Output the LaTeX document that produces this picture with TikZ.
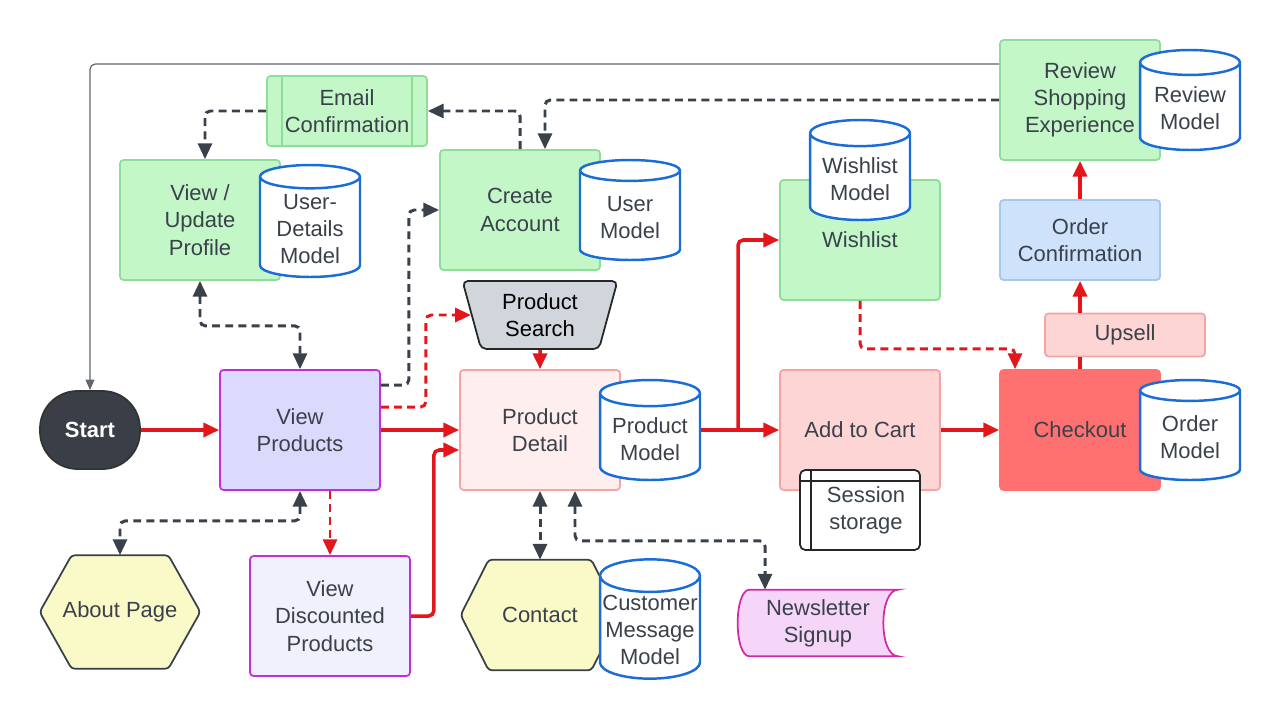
\documentclass[tikz,border=0pt]{standalone}
\usepackage{fontspec}
\setsansfont{Liberation Sans}
\usetikzlibrary{arrows.meta}
\usetikzlibrary{shapes}
\usetikzlibrary{backgrounds}

\definecolor{inkgray}{HTML}{3A414A}
\definecolor{flowred}{HTML}{E3161B}
\definecolor{greenfill}{HTML}{C3F7C8}
\definecolor{greenline}{HTML}{8FDD9A}
\definecolor{modelblue}{HTML}{1A6DD8}
\definecolor{lavfill}{HTML}{DCDAFC}
\definecolor{palelav}{HTML}{F1F0FD}
\definecolor{purpleline}{HTML}{C12EE0}
\definecolor{pinkfill}{HTML}{FEEEEE}
\definecolor{pinkline}{HTML}{F5A3A3}
\definecolor{rosefill}{HTML}{FDD5D5}
\definecolor{hotred}{HTML}{FF7070}
\definecolor{bluefill}{HTML}{CEE2FC}
\definecolor{blueline}{HTML}{A7C7EF}
\definecolor{searchfill}{HTML}{D1D5DC}
\definecolor{hexfill}{HTML}{FAF9C8}
\definecolor{newsfill}{HTML}{F5D6F8}
\definecolor{newsline}{HTML}{D12AA6}
\definecolor{startfill}{HTML}{3A3F47}

\begin{document}
\begin{tikzpicture}[x = 0.02cm, y = -0.02cm, font=\sffamily\fontsize{12.5}{15.5}\selectfont, >={Triangle[length = 9pt, width = 8pt]}]
	\tikzstyle{boxStyle} = [shape = rectangle, rounded corners = 2pt, minimum width = 3.2cm, minimum height = 2.4cm, align = center, text = inkgray, line width = 1pt]
	\tikzstyle{greenStyle} = [boxStyle, draw = greenline, fill = greenfill]
	\tikzstyle{modelStyle} = [shape = cylinder, shape border rotate = 90, aspect = 0.33, anchor = shape center, draw = modelblue, fill = white, line width = 1.4pt, minimum width = 2cm, minimum height = 2cm, align = center, text = inkgray, inner sep = 1pt]
	\tikzstyle{hexStyle} = [draw = inkgray, fill = hexfill, line width = 1pt, rounded corners = 2pt]
	\tikzstyle{flowStyle} = [draw = flowred, line width = 2pt, ->, rounded corners = 3pt]
	\tikzstyle{optStyle} = [draw = flowred, line width = 1.7pt, dash pattern = on 4.5pt off 3pt, ->, rounded corners = 3pt]
	\tikzstyle{linkStyle} = [draw = inkgray, line width = 1.7pt, dash pattern = on 4.5pt off 3pt, ->, rounded corners = 3pt]
	\tikzstyle{backStyle} = [draw = inkgray!80, line width = 0.7pt, -{Triangle[length = 6pt, width = 5pt]}, rounded corners = 3pt]
	\useasboundingbox (0,0) rectangle (1280,720);
	\node[shape = rectangle, rounded corners = 0.75cm, minimum width = 2cm, minimum height = 1.56cm, draw = black!80, fill = startfill, line width = 1pt, text = white, font = \sffamily\bfseries\fontsize{12.5}{15.5}\selectfont] (start) at (90,430) {Start};
	\node[boxStyle, draw = purpleline, fill = lavfill] (viewprod) at (300,430) {View\\Products};
	\node[boxStyle, draw = purpleline, fill = palelav] (discount) at (330,616) {View\\Discounted\\Products};
	\node[boxStyle, draw = pinkline, fill = pinkfill] (detail) at (540,430) {Product\\Detail};
	\node[boxStyle, draw = pinkline, fill = rosefill] (cart) at (860,430) {Add to Cart};
	\node[boxStyle, draw = hotred, fill = hotred] (checkout) at (1080,430) {Checkout};
	\node[boxStyle, draw = pinkline, fill = rosefill, minimum height = 0.86cm] (upsell) at (1125,335) {Upsell};
	\node[boxStyle, draw = blueline, fill = bluefill, minimum height = 1.6cm] (orderconf) at (1080,240) {Order\\Confirmation};
	\node[greenStyle] (review) at (1080,100) {Review\\Shopping\\Experience};
	\node[greenStyle] (wishlist) at (860,240) {Wishlist};
	\node[greenStyle] (account) at (520,210) {Create\\Account};
	\node[greenStyle] (profile) at (200,220) {View /\\Update\\Profile};
	\node[greenStyle, minimum height = 1.4cm] (email) at (347,111) {Email\\Confirmation};
	\draw[greenline, line width = 1pt] ([xshift = 0.32cm]email.north west) -- ([xshift = 0.32cm]email.south west);
	\draw[greenline, line width = 1pt] ([xshift = -0.32cm]email.north east) -- ([xshift = -0.32cm]email.south east);
	\node[shape = trapezium, shape border rotate = 180, trapezium angle = 76, trapezium stretches = true, minimum width = 3.12cm, minimum height = 1.36cm, draw = black!85, fill = searchfill, line width = 1pt, rounded corners = 3pt, align = center, text = black] (search) at (540,315) {Product\\Search};
	\node[minimum width = 3.2cm, minimum height = 2.26cm, text = inkgray] (about) at (120,612) {About Page};
	\node[minimum width = 3.16cm, minimum height = 2.2cm, text = inkgray] (contact) at (540,615) {Contact};
	\node[shape = rectangle, minimum width = 3.2cm, minimum height = 1.32cm, align = center, text = inkgray] (news) at (818,623) {Newsletter\\Signup};
	\begin{scope}[on background layer]
		\draw[hexStyle] (about.west) -- ([xshift = 0.64cm]about.north west) -- ([xshift = -0.64cm]about.north east) -- (about.east) -- ([xshift = -0.64cm]about.south east) -- ([xshift = 0.64cm]about.south west) -- cycle;
		\draw[hexStyle] (contact.west) -- ([xshift = 0.56cm]contact.north west) -- ([xshift = -0.56cm]contact.north east) -- (contact.east) -- ([xshift = -0.56cm]contact.south east) -- ([xshift = 0.56cm]contact.south west) -- cycle;
		\draw[draw = newsline, fill = newsfill, line width = 1pt] ([xshift = 0.24cm]news.north west) -- (news.north east) .. controls ([xshift = -0.4cm]news.north east) and ([xshift = -0.4cm]news.south east) .. (news.south east) -- ([xshift = 0.24cm]news.south west) .. controls ([xshift = -0.08cm]news.south west) and ([xshift = -0.08cm]news.north west) .. ([xshift = 0.24cm]news.north west) -- cycle;
	\end{scope}
	\node[shape = rectangle, rounded corners = 3pt, minimum width = 2.4cm, minimum height = 1.6cm, draw = black!85, fill = white, line width = 1pt, align = center, text = inkgray] (session) at (860,510) {\hspace{0.24cm}Session\\\hspace{0.24cm}storage};
	\draw[black!85, line width = 1pt] ([yshift = -0.24cm]session.north west) -- ([yshift = -0.24cm]session.north east);
	\draw[black!85, line width = 1pt] ([xshift = 0.24cm]session.north west) -- ([xshift = 0.24cm]session.south west);
	\node[modelStyle] (prodmodel) at (650,430) {Product\\Model};
	\node[modelStyle] (ordermodel) at (1190,430) {Order\\Model};
	\node[modelStyle] (reviewmodel) at (1190,100) {Review\\Model};
	\node[modelStyle] (wishmodel) at (860,170) {Wishlist\\Model};
	\node[modelStyle] (usermodel) at (630,210) {User\\Model};
	\node[modelStyle, minimum height = 2.24cm] (udmodel) at (310,221) {User-\\Details\\Model};
	\node[modelStyle, minimum height = 2.24cm] (custmodel) at (650,619) {Customer\\Message\\Model};
	\draw[flowStyle] (start) -- (viewprod);
	\draw[flowStyle] (viewprod) -- (detail);
	\draw[flowStyle] (cart.west -| prodmodel.east) -- (cart.west);
	\coordinate (fork) at (738,430);
	\draw[flowStyle] (fork) |- (wishlist.west);
	\draw[flowStyle] (cart) -- (checkout);
	\draw[flowStyle, -] (checkout.north) -- (checkout.north |- upsell.south);
	\draw[flowStyle] (checkout.north |- upsell.north) -- (orderconf.south);
	\draw[flowStyle] (orderconf) -- (review);
	\draw[flowStyle] (search) -- (detail);
	\draw[flowStyle] (discount.east) -- ++(23,0) |- ([yshift = -0.4cm]detail.west);
	\draw[optStyle] (discount.north |- viewprod.south) -- (discount.north);
	\draw[optStyle] ([yshift = 0.46cm]viewprod.east) -- ++(45,0) |- (search.west);
	\draw[optStyle] (wishlist.south) -- ++(0,48) -| ([xshift = -1.3cm]checkout.north);
	\draw[linkStyle] ([yshift = 0.9cm]viewprod.east) -- ++(28,0) |- (account.west);
	\draw[linkStyle] (review.west) -| ([xshift = 0.5cm]account.north);
	\draw[linkStyle] (account.north) |- (email.east);
	\draw[linkStyle] (email.west) -| ([xshift = 0.1cm]profile.north);
	\draw[linkStyle, <->] (profile.south) -- ++(0,45) -| (viewprod.north);
	\draw[linkStyle, <->] (viewprod.south) -- ++(0,30) -| (about.north);
	\draw[linkStyle, <->] (detail.south) -- (contact.north);
	\draw[linkStyle, <->] ([xshift = 0.7cm]detail.south) -- ++(0,50) -| ([xshift = -1.06cm]news.north);
	\draw[backStyle] ([yshift = 0.72cm]review.west) -| (start.north);
\end{tikzpicture}
\end{document}
